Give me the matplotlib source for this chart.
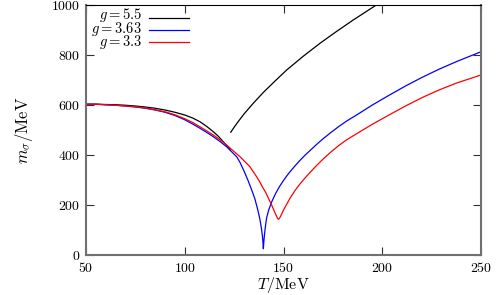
import matplotlib
matplotlib.use("Agg")
import matplotlib.pyplot as plt
from matplotlib.ticker import FuncFormatter

plt.rcParams['mathtext.fontset'] = 'cm'
plt.rcParams['font.family'] = ['DejaVu Serif']

# g = 5.5 (two branches)
T_black_lo = [50, 55, 60, 65, 70, 75, 80, 85, 90, 95, 100, 104, 107.7, 111,
              114.5, 117, 119.5, 121.5, 122.9]
m_black_lo = [603, 603, 602, 601, 599, 596, 592, 587, 580, 571, 560, 548, 533, 515,
              493, 475, 453, 435, 421]
T_black_hi = [123.3, 125, 127, 130, 134.7, 140, 146, 151.6, 160, 168.5, 177, 185.3, 197]
m_black_hi = [491, 511, 533, 564, 607, 652, 698, 740, 795, 847, 895, 940, 1000]

# g = 3.63
T_blue = [50, 55, 60, 65, 70, 75, 80, 85, 90, 95, 100, 104, 107.7, 111, 114.5,
          118, 121.2, 124, 126.3, 128, 130, 132, 134, 135.5, 137, 138, 138.8,
          139.3, 139.6, 139.8, 140.0, 140.3, 140.7, 141.1, 141.5, 142.5, 144,
          146, 148, 149.9, 152, 153.3, 156, 158.4, 161, 164, 167, 170.2, 174,
          178, 182, 187, 195, 203.9, 212, 220.8, 229, 237.7, 250]
m_blue = [603, 603, 601, 599, 596, 592, 587, 580, 571, 558, 541, 524, 507, 491, 473,
          453, 433, 411, 393, 370, 336, 299, 258, 225, 180, 145, 108,
          78, 52, 25, 48, 76, 105, 130, 150, 180, 212,
          246, 274, 297, 320, 333, 358, 379, 400, 422, 444, 466, 490,
          514, 536, 560, 600, 641, 677, 713, 744, 774, 813]

# g = 3.3
T_red = [50, 55, 60, 65, 70, 75, 80, 85, 90, 95, 100, 104, 107.7, 111, 114.5,
         118, 121.2, 124.5, 128, 130.5, 133, 136.4, 138, 139.5, 141, 142.5,
         144, 145.2, 146.2, 146.9, 147.4, 147.9, 148.6, 149.3, 150, 153.3, 156,
         158.4, 161, 164, 167, 170.2, 174, 178, 182, 187, 195, 203.9, 212,
         220.8, 229, 237.7, 250]
m_red = [603, 603, 601, 599, 596, 593, 588, 581, 573, 561, 545, 530, 513, 497, 480,
         460, 440, 417, 393, 373, 353, 313, 292, 270, 250, 225,
         200, 178, 160, 148, 143, 146, 156, 168, 180, 227, 260,
         285, 309, 335, 360, 385, 412, 438, 461, 485, 523, 562, 597,
         632, 661, 688, 720]

labels = [r'$g = 5.5$', r'$g = 3.63$', r'$g = 3.3$']
colors = ['black', '#0000ff', '#ff0000']
xticks = [50, 100, 150, 200, 250]
yticks = [0, 200, 400, 600, 800, 1000]

W, H = 496, 295
AX_L, AX_R, AX_T, AX_B = 86, 481, 5, 255

fig = plt.figure(figsize=(W / 100, H / 100), dpi=100)
ax = fig.add_axes([AX_L / W, 1 - AX_B / H, (AX_R - AX_L) / W, (AX_B - AX_T) / H])

lw = 0.9
ax.plot(T_black_lo, m_black_lo, color=colors[0], lw=lw)
ax.plot(T_black_hi, m_black_hi, color=colors[0], lw=lw)
ax.plot(T_blue, m_blue, color=colors[1], lw=lw)
ax.plot(T_red, m_red, color=colors[2], lw=lw)

ax.set_xlim(50, 250)
ax.set_ylim(0, 1000)
ax.set_xticks(xticks)
ax.set_yticks(yticks)
fmt = FuncFormatter(lambda v, p: r'$%d$' % v)
ax.xaxis.set_major_formatter(fmt)
ax.yaxis.set_major_formatter(fmt)
ax.tick_params(direction='in', length=6, width=0.8, color='#303030',
               labelsize=10, top=True, right=True, pad=4)

for s in ['left', 'bottom', 'right']:
    ax.spines[s].set_color('#707070')
    ax.spines[s].set_linewidth(1.5)
ax.spines['top'].set_color('black')
ax.spines['top'].set_linewidth(0.8)

ax.set_xlabel(r'$T/\mathrm{MeV}$', fontsize=11.5, labelpad=0)
ax.set_ylabel(r'$m_\sigma/\mathrm{MeV}$', fontsize=12, labelpad=12)

# gnuplot-style key: right-aligned labels followed by line samples
def ax_x(px):
    return (px - AX_L) / (AX_R - AX_L)

def ax_y(py):
    return (AX_B - py) / (AX_B - AX_T)

rows = [18, 30, 42]
ax.text(ax_x(142), ax_y(rows[-1] + 4.2), '\n'.join(labels), transform=ax.transAxes,
        ha='right', va='baseline', multialignment='right', fontsize=10.5,
        linespacing=0.66)
for col, ry in zip(colors, rows):
    ax.plot([ax_x(149), ax_x(189)], [ax_y(ry), ax_y(ry)], color=col, lw=lw,
            transform=ax.transAxes, clip_on=False)

fig.savefig('out.png', dpi=100)
